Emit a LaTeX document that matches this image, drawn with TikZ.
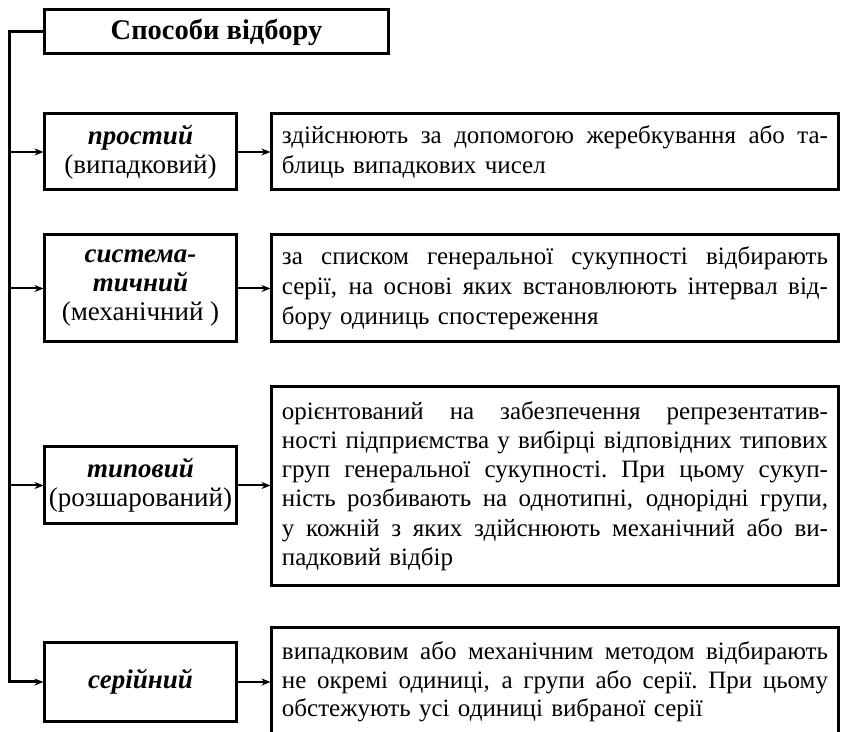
\documentclass[tikz,border=0pt]{standalone}
\usepackage{fontspec}
\setmainfont{Liberation Serif}
\usetikzlibrary{arrows.meta}
\newlength\rw
\setlength\rw{218.4pt}
\newcommand\jl[1]{\makebox[\rw][s]{\spaceskip=\fontdimen2\font plus 1fil minus \fontdimen4\font\xspaceskip=\spaceskip#1}\\}
\begin{document}
\begin{tikzpicture}[x=0.4pt,y=-0.4pt,
  box/.style={draw, line width=1.2pt, rectangle, inner sep=0pt},
  lbox/.style={box, minimum width=76.4pt, align=center, font=\fontsize{10.8}{11.6}\selectfont},
  rbox/.style={box, text width=\rw, inner xsep=4pt, align=left, font=\fontsize{10}{12}\selectfont},
  conn/.style={line width=0.8pt, -{Stealth[length=3.6pt,width=2.8pt]}},
  trunk/.style={line width=1.2pt, -{Stealth[length=3.6pt,width=2.8pt]}}]
\useasboundingbox (0,0) rectangle (841,732);

\node[box, minimum width=137.2pt, minimum height=17.6pt, font=\fontsize{11.4}{12}\selectfont\bfseries] (title) at (216.5,32) {Способи відбору};

\node[lbox, minimum height=30.4pt] (l1) at (140.5,152) {\textbf{\textit{простий}}\\(випадковий)};
\node[lbox, minimum height=42.8pt] (l2) at (140.5,288.5) {\textbf{\textit{система-}}\\\textbf{\textit{тичний}}\\(механічний )};
\node[lbox, minimum height=30.8pt] (l3) at (140.5,485.5) {\textbf{\textit{типовий}}\\(розшарований)};
\node[lbox, minimum height=31.2pt] (l4) at (140.5,682) {\textbf{\textit{серійний}}};

\node[rbox, minimum height=30.4pt] (r1) at (555,152) {\noindent\jl{здійснюють за допомогою жеребкування або та-}блиць випадкових чисел};
\node[rbox, minimum height=42.8pt] (r2) at (555,288.5) {\noindent\jl{за списком генеральної сукупності відбирають}\jl{серії, на основі яких встановлюють інтервал від-}бору одиниць спостереження};
\node[rbox, minimum height=79.2pt, font=\fontsize{10}{11.7}\selectfont] (r3) at (555,486) {\noindent\jl{орієнтований на забезпечення репрезентатив-}\jl{ності підприємства у вибірці відповідних типових}\jl{груп генеральної сукупності. При цьому сукуп-}\jl{ність розбивають на однотипні, однорідні групи,}\jl{у кожній з яких здійснюють механічний або ви-}падковий відбір};
\node[rbox, minimum height=43.2pt, font=\fontsize{10}{11.4}\selectfont] (r4) at (555,682) {\noindent\jl{випадковим або механічним методом відбирають}\jl{не окремі одиниці, а групи або серії. При цьому}обстежують усі одиниці вибраної серії};

\coordinate (tr) at (9,32);
\draw[trunk] (title.west) -- (tr) |- (l4.west);
\foreach \n in {l1,l2,l3} \draw[conn] (tr |- \n.west) -- (\n.west);
\foreach \i in {1,2,3,4} \draw[conn] (l\i.east) -- (l\i.east -| r\i.west);
\end{tikzpicture}
\end{document}
